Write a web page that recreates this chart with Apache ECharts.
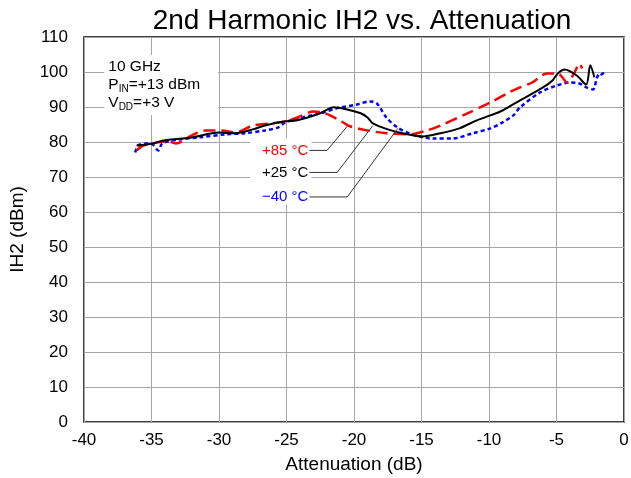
<!DOCTYPE html>
<html>
<head>
<meta charset="utf-8">
<script src="https://cdn.jsdelivr.net/npm/echarts@6/dist/echarts.min.js"></script>
<style>
html,body{margin:0;padding:0;background:#fff;}
#c{width:631px;height:478px;}
</style>
</head>
<body>
<div id="c"></div>
<script>
// ---- data ----
const titleText = '2nd Harmonic IH2 vs. Attenuation';
const xName = 'Attenuation (dB)';
const yName = 'IH2 (dBm)';
const seriesNames = ['+85 °C', '+25 °C', '\u221240 °C'];

const t85 = [[-36.1,77.6],[-35.6,79.0],[-34.5,79.9],[-33.8,80.2],[-33.2,79.6],[-32.0,81.9],[-31.0,83.3],[-29.8,83.3],[-28.8,82.7],[-27.5,84.7],[-26.1,85.3],[-25.1,85.9],[-24.2,87.0],[-23.0,88.7],[-22.3,88.4],[-21.3,86.7],[-20.3,84.5],[-19.0,83.3],[-17.6,82.5],[-15.9,82.2],[-14.6,83.3],[-13.6,84.7],[-11.6,88.2],[-9.9,91.3],[-8.5,94.2],[-7.7,95.6],[-6.8,97.0],[-5.7,99.6],[-4.9,99.6],[-4.2,97.0],[-3.7,99.6],[-3.3,102.4],[-3.1,101.0]];

const t25 = [[-36.1,79.0],[-34.9,79.6],[-34.0,80.5],[-32.0,81.3],[-30.0,82.7],[-28.8,82.5],[-27.5,83.6],[-26.6,84.7],[-25.1,85.9],[-24.2,86.2],[-22.5,88.2],[-21.5,89.9],[-20.5,89.3],[-19.5,88.2],[-19.0,87.0],[-18.6,85.3],[-17.5,83.6],[-16.4,82.5],[-14.9,81.6],[-13.6,82.5],[-12.2,83.9],[-10.9,86.2],[-9.9,87.6],[-9.0,89.0],[-7.7,91.9],[-6.0,95.6],[-5.3,97.6],[-4.9,99.6],[-4.4,100.7],[-3.5,99.0],[-2.8,96.4],[-2.5,101.9],[-2.2,98.5]];

const tm40 = [[-36.2,77.0],[-36.0,79.0],[-35.2,79.6],[-34.9,79.3],[-34.5,77.6],[-34.2,79.6],[-33.0,80.7],[-31.5,81.3],[-29.5,82.2],[-28.1,82.5],[-26.6,83.3],[-25.6,84.2],[-25.1,85.6],[-24.2,86.7],[-22.5,88.2],[-21.3,89.6],[-19.8,90.7],[-18.8,91.6],[-18.3,91.0],[-17.6,87.0],[-16.8,84.2],[-15.8,82.3],[-14.2,81.0],[-12.7,81.0],[-11.2,82.5],[-9.9,83.9],[-9.0,85.6],[-8.2,87.6],[-7.7,89.9],[-6.2,94.2],[-5.0,96.1],[-4.0,97.0],[-3.3,96.7],[-2.8,95.6],[-2.3,95.0],[-2.0,98.4],[-1.8,99.6],[-1.65,99.3],[-1.5,99.9]];

const xMin = -40, xMax = 0, xStep = 5;
const yMin = 0, yMax = 110, yStep = 10;

// annotation anchors in data coords: label right edge, elbow x, tip point
const labelY = [77.6, 71.3, 64.3];
const labelX = -23.3;
const elbowX = [-22.0, -21.25, -20.5];
const tips = [[-20.5, 84.5], [-18.6, 84.7], [-16.75, 83.9]];
const condLines = ['10 GHz', ['P', 'IN', '=+13 dBm'], ['V', 'DD', '=+3 V']];

const colors = ['#ff0000', '#000000', '#0000ff'];
const FONT = 'Liberation Sans, Arial, sans-serif';

const chart = echarts.init(document.getElementById('c'), null, {renderer: 'canvas'});

const option = {
  animation: false,
  backgroundColor: '#fff',
  title: {
    text: titleText, left: 357, top: 2, textAlign: 'center',
    textStyle: {fontFamily: FONT, fontSize: 28, fontWeight: 'normal', color: '#000'}
  },
  grid: {left: 84, right: 7, top: 37, bottom: 56, containLabel: false, outerBoundsMode: 'none',
         show: true, borderColor: '#000', borderWidth: 1.5, backgroundColor: 'transparent'},
  xAxis: {
    type: 'value', min: xMin, max: xMax, interval: xStep,
    name: xName, nameLocation: 'middle', nameGap: 33,
    nameTextStyle: {fontFamily: FONT, fontSize: 19, color: '#000'},
    axisLine: {show: false}, axisTick: {show: false},
    axisLabel: {fontFamily: FONT, fontSize: 17, color: '#000', margin: 10},
    splitLine: {show: true, lineStyle: {color: '#a6a6a6', width: 1}}
  },
  yAxis: {
    type: 'value', min: yMin, max: yMax, interval: yStep,
    name: yName, nameLocation: 'middle', nameGap: 57, nameRotate: 90,
    nameTextStyle: {fontFamily: FONT, fontSize: 19, color: '#000'},
    axisLine: {show: false}, axisTick: {show: false},
    axisLabel: {fontFamily: FONT, fontSize: 17, color: '#000', margin: 16},
    splitLine: {show: true, lineStyle: {color: '#a6a6a6', width: 1}}
  },
  series: [
    {name: seriesNames[0], type: 'line', data: t85, showSymbol: false, smooth: 0.3, z: 3,
     lineStyle: {color: colors[0], width: 2.5, type: [12, 6]}},
    {name: seriesNames[1], type: 'line', data: t25, showSymbol: false, smooth: 0.3, z: 4,
     lineStyle: {color: colors[1], width: 2, type: 'solid'}},
    {name: seriesNames[2], type: 'line', data: tm40, showSymbol: false, smooth: 0.3, z: 2,
     lineStyle: {color: colors[2], width: 2.5, type: [4, 3]}}
  ]
};
chart.setOption(option);

function px(p) { return chart.convertToPixel({gridIndex: 0}, p); }

const graphics = [];
// condition text block
const c0 = px([-38.2, 100]);
const richStr = '{n|' + condLines[0] + '}\n' +
  '{n|' + condLines[1][0] + '}{s|' + condLines[1][1] + '}{n|' + condLines[1][2] + '}\n' +
  '{n|' + condLines[2][0] + '}{s|' + condLines[2][1] + '}{n|' + condLines[2][2] + '}';
graphics.push({
  type: 'text', z: 10,
  left: c0[0] - 4, top: 55,
  style: {
    text: richStr, fill: '#000', backgroundColor: '#fff', padding: [3, 18, 3, 4],
    rich: {
      n: {fontFamily: FONT, fontSize: 15.5, lineHeight: 18, fill: '#000'},
      s: {fontFamily: FONT, fontSize: 10, lineHeight: 10, verticalAlign: 'bottom', fill: '#000'}
    }
  }
});
// label white box
const lb = px([labelX, labelY[0]]);
graphics.push({type: 'rect', z: 9, shape: {x: 250, y: lb[1] - 12, width: lb[0] - 250 + 2, height: 66}, style: {fill: '#fff'}});

for (let i = 0; i < 3; i++) {
  const a = px([labelX, labelY[i]]);
  const e = px([elbowX[i], labelY[i]]);
  const t = px(tips[i]);
  graphics.push({
    type: 'text', z: 11, x: a[0] - 1, y: a[1],
    style: {text: seriesNames[i], fontFamily: FONT, fontSize: 15, fill: colors[i], align: 'right', verticalAlign: 'middle'}
  });
  graphics.push({
    type: 'polyline', z: 11,
    shape: {points: [[a[0], a[1]], [e[0], e[1]], [t[0], t[1]]]},
    style: {stroke: '#333', lineWidth: 1, fill: null}
  });
}
chart.setOption({graphic: graphics});
</script>
</body>
</html>
